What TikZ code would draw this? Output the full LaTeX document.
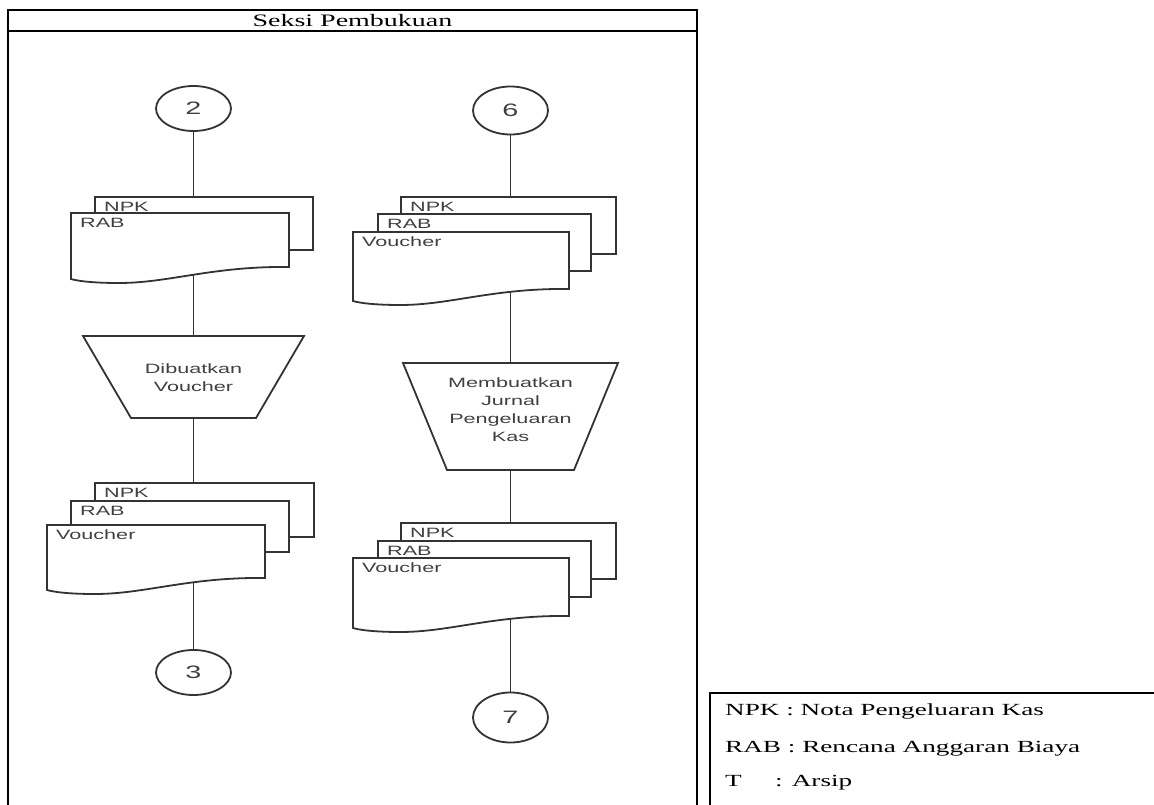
\documentclass[tikz,border=0pt]{standalone}
\usepackage{fontspec}
\setmainfont[FakeStretch=1.6]{Liberation Serif}
\newfontfamily\shapefont[FakeStretch=1.6]{Liberation Sans}
\usetikzlibrary{shapes.geometric}
\pgfdeclarelayer{background}
\pgfsetlayers{background,main}
\definecolor{ink}{HTML}{333333}
\definecolor{txt}{HTML}{404040}
\tikzset{
  line/.style={draw=ink, line width=1.8pt},
  frameline/.style={draw=black, line width=2.2pt},
  shapeline/.style={draw=ink, line width=1.8pt, fill=white, line join=miter},
  term/.style={ellipse, shapeline, inner sep=0pt, minimum width=75pt, font=\shapefont\fontsize{18}{20}\selectfont, text=txt},
  lbl/.style={anchor=base west, inner sep=0pt, font=\shapefont\fontsize{13.5}{15}\selectfont, text=txt},
  proc/.style={inner sep=0pt, align=center, font=\shapefont\fontsize{13.5}{18}\selectfont, text=txt},
  legendtext/.style={anchor=base west, inner sep=0pt, font=\fontsize{17}{20}\selectfont, text=black},
}
\newcommand\backdoc[6]{% L T R B label name
  \filldraw[shapeline] (#1,#2) rectangle (#3,#4);
  \node[lbl] (#6) at ({#1+9},{#2+14.5}) {#5};
}
\newcommand\frontdoc[6]{% L T R B label name
  \pgfmathsetmacro\dw{#3-#1}
  \filldraw[shapeline] (#1,#2) -- (#3,#2) -- (#3,#4)
   .. controls ({#3-0.35*\dw},{#4-1}) and ({#1+0.45*\dw},{#4+16}) .. ({#1+0.22*\dw},{#4+16})
   .. controls ({#1+0.1*\dw},{#4+16}) and ({#1+0.03*\dw},{#4+14}) .. (#1,{#4+12}) -- cycle;
  \node[lbl] (#6) at ({#1+9},{#2+14.5}) {#5};
}
\begin{document}
\begin{tikzpicture}[x=1pt,y=-1pt]
\useasboundingbox (0,0) rectangle (1154,805);

% frame
\draw[frameline] (8,806) -- (8,10) -- (697,10) -- (697,806);
\draw[frameline] (8,31) -- (697,31);
\node[inner sep=0pt, font=\fontsize{17.5}{20}\selectfont] (hdr) at (352.5,21) {Seksi Pembukuan};

% left column
\node[term, minimum height=45pt] (c2) at (193.5,108.5) {2};
\backdoc{95}{197}{313}{250}{NPK}{l1npk}
\frontdoc{71}{213}{289}{267}{RAB}{l1rab}
\filldraw[shapeline] (83,336) -- (304,336) -- (256,418) -- (131,418) -- cycle;
\node[proc] (t1) at (193.5,378) {Dibuatkan\\Voucher};
\backdoc{95}{483}{314}{537}{NPK}{l2npk}
\backdoc{71}{501}{289}{552}{RAB}{l2rab}
\frontdoc{47}{525}{265}{578}{Voucher}{l2vou}
\node[term, minimum height=45pt] (c3) at (193.5,672.5) {3};

% right column
\node[term, minimum height=48pt] (c6) at (510.5,110.5) {6};
\backdoc{401}{197}{616}{254}{NPK}{r1npk}
\backdoc{378}{214}{591}{271}{RAB}{r1rab}
\frontdoc{353}{232}{569}{289}{Voucher}{r1vou}
\filldraw[shapeline] (403,363) -- (618,363) -- (574,470) -- (447,470) -- cycle;
\node[proc] (t2) at (510.5,410) {Membuatkan\\Jurnal\\Pengeluaran\\Kas};
\backdoc{401}{523}{616}{579}{NPK}{r2npk}
\backdoc{378}{541}{591}{597}{RAB}{r2rab}
\frontdoc{353}{558}{569}{616}{Voucher}{r2vou}
\node[term, minimum height=50pt] (c7) at (510.5,717.5) {7};

% connectors
\begin{pgfonlayer}{background}
\draw[line] (c2.center) -- (t1.center) -- (c3.center);
\draw[line] (c6.center) -- (t2.center) -- (c7.center);
\end{pgfonlayer}

% legend
\draw[line width=1.8pt, draw=black] (710,806) -- (710,693) -- (1156,693);
\node[legendtext] (lg1) at (725,715) {NPK : Nota Pengeluaran Kas};
\node[legendtext] (lg2) at (725,752) {RAB : Rencana Anggaran Biaya};
\node[legendtext] (lg3a) at (725,786) {T};
\node[legendtext] (lg3b) at (775,786) {: Arsip};
\end{tikzpicture}
\end{document}
